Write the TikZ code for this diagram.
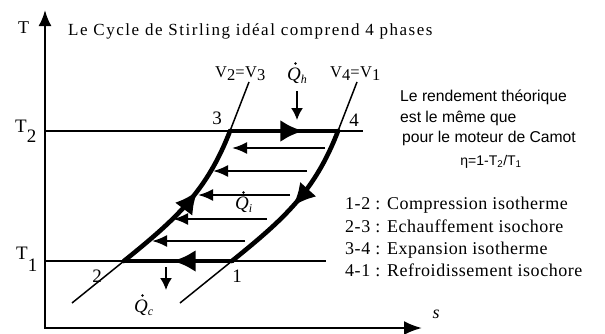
\documentclass[tikz,border=0pt]{standalone}
\usepackage{fontspec}
\setmainfont{Liberation Serif}
\newfontfamily\arialf{Liberation Sans}
\usetikzlibrary{arrows.meta,decorations.markings}
\newcommand{\qsub}[1]{{\itshape Q\raisebox{-3pt}{\fontsize{12}{12}\selectfont #1}}}
\begin{document}
\begin{tikzpicture}[x=1pt,y=1pt,
  axisline/.style={line width=2.4pt},
  isoT/.style={line width=2.4pt},
  thiniso/.style={line width=1.5pt},
  thickpath/.style={line width=4.6pt,line cap=round},
  regen/.style={line width=2.2pt,-{Latex[length=15pt,width=12pt]}},
  heat/.style={line width=1.6pt,-{Latex[length=12pt,width=12pt]}},
  bigarrow/.style={postaction={decorate},decoration={markings,mark=at position #1 with {\arrow{Latex[length=23pt,width=22pt]}}}},
  lbl/.style={inner sep=0pt},
  serif/.style={font=\fontsize{#1}{#1}\selectfont},
  qdotmark/.style={fill=black},
]
\useasboundingbox (0,0) rectangle (605,333);
% axes
\coordinate (O) at (45,5);
\coordinate (Ytop) at (45,323);
\coordinate (Xend) at (422,5);
\draw[axisline,{Latex[length=16pt,width=13pt]}-{Latex[length=18pt,width=14pt]}] (Ytop) -- (O) -- (Xend);
% isotherms
\coordinate (T2a) at (45,202); \coordinate (T2b) at (363,202);
\coordinate (T1a) at (45,72);  \coordinate (T1b) at (326,72);
\draw[isoT] (T2a) -- (T2b);
\draw[isoT] (T1a) -- (T1b);
% cycle points
\coordinate (p2) at (124,72);
\coordinate (p3) at (230,202);
\coordinate (p1) at (232,72);
\coordinate (p4) at (338,202);
\coordinate (A) at (72,30);
\coordinate (B) at (249,251);
\coordinate (A2) at (180,30);
\coordinate (B2) at (357,251);
% isochores
\draw[thiniso] (A) -- (p2);
\draw[thiniso] (p3) -- (B);
\draw[thiniso] (A2) -- (p1);
\draw[thiniso] (p4) -- (B2);
\draw[thickpath,bigarrow=0.6] (p2) to[out=39,in=249] (p3);
\draw[thickpath,bigarrow=0.52] (p4) to[out=249,in=39] (p1);
\draw[thickpath,bigarrow=0.68] (p3) -- (p4);
\draw[thickpath,bigarrow=0.55] (p1) -- (p2);
% regenerator arrows
\foreach \i/\y/\xs/\xe in {1/185/325/232,2/162/307/213,3/138/290/198,4/114/267/173,5/92/245/152}{
  \coordinate (r\i s) at (\xs,\y);
  \coordinate (r\i e) at (\xe,\y);
  \draw[regen] (r\i s) -- (r\i e);
}
% heat arrows
\coordinate (qha) at (297,242); \coordinate (qhb) at (297,213);
\draw[heat] (qha) -- (qhb);
\coordinate (qca) at (166,66); \coordinate (qcb) at (166,43);
\draw[heat] (qca) -- (qcb);
% heat labels (Q with dot)
\node[lbl,serif=19,anchor=base west] (qh) at (287,253) {\qsub{h}};
\node[lbl,serif=19,anchor=base west] (qi) at (235,124) {\qsub{i}};
\node[lbl,serif=19,anchor=base west] (qc) at (134,21) {\qsub{c}};
\fill[qdotmark] ([shift={(8.5,16.5)}]qh.base west) circle[radius=1.4];
\fill[qdotmark] ([shift={(8.5,16.5)}]qi.base west) circle[radius=1.4];
\fill[qdotmark] ([shift={(8.5,16.5)}]qc.base west) circle[radius=1.4];
% labels
\node[lbl,serif=18,anchor=base west] (Tlab) at (18,300) {T};
\node[lbl,serif=19,anchor=base west] (T2lab) at (15,201) {T\raisebox{-10pt}{2}};
\node[lbl,serif=19,anchor=base west] (T1lab) at (16,74) {T\raisebox{-12pt}{1}};
\node[lbl,serif=17,anchor=base west] (title) at (68,298) {\addfontfeature{LetterSpace=9}Le Cycle de Stirling idéal comprend 4 phases};
\node[lbl,serif=16.5,anchor=base west] (v23) at (215,256) {\addfontfeature{LetterSpace=3}V\raisebox{-3pt}{2}=V\raisebox{-3pt}{3}};
\node[lbl,serif=16.5,anchor=base west] (v41) at (330,256) {\addfontfeature{LetterSpace=3}V\raisebox{-3pt}{4}=V\raisebox{-3pt}{1}};
\node[lbl,serif=19] (n3) at (217,215) {3};
\node[lbl,serif=19] (n4) at (354,213) {4};
\node[lbl,serif=19] (n1) at (237,57) {1};
\node[lbl,serif=19] (n2) at (97,57) {2};
\node[lbl,serif=18] (slab) at (436,19) {\textit{s}};
% right text
\node[lbl,font=\arialf\fontsize{15.7}{15.7}\selectfont,anchor=base west] (r1) at (400,232) {Le rendement théorique};
\node[lbl,font=\arialf\fontsize{15.7}{15.7}\selectfont,anchor=base west] (r2) at (400,211) {est le même que};
\node[lbl,font=\arialf\fontsize{15.7}{15.7}\selectfont,anchor=base west] (r3) at (402,191) {pour le moteur de Camot};
\node[lbl,font=\arialf\fontsize{14}{14}\selectfont,anchor=base] (r4) at (491,168) {η=1-T\textsubscript{2}/T\textsubscript{1}};
% legend
\node[lbl,serif=18,anchor=base west] (l1) at (345,124) {\addfontfeature{LetterSpace=3}1-2 : Compression isotherme};
\node[lbl,serif=18,anchor=base west] (l2) at (345,101) {\addfontfeature{LetterSpace=3}2-3 : Echauffement isochore};
\node[lbl,serif=18,anchor=base west] (l3) at (345,79) {\addfontfeature{LetterSpace=3}3-4 : Expansion isotherme};
\node[lbl,serif=18,anchor=base west] (l4) at (345,57) {\addfontfeature{LetterSpace=3}4-1 : Refroidissement isochore};
\end{tikzpicture}
\end{document}
